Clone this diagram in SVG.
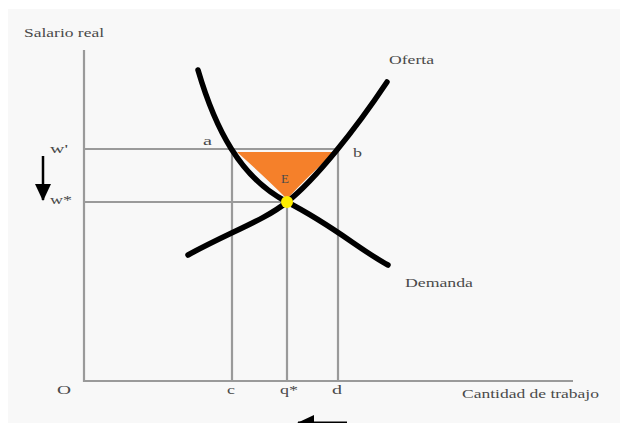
<svg xmlns="http://www.w3.org/2000/svg" width="620" height="423" viewBox="0 0 620 423">
<style>
.t{font-family:"Liberation Serif","Times New Roman",serif;font-size:13px;fill:#4a4a4a}
.g{stroke:#9a9a9a;stroke-width:2.2;fill:none}
.c{stroke:#000;stroke-width:5.5;fill:none;stroke-linecap:round}
</style>
<defs>
<marker id="ah" markerWidth="17" markerHeight="16" refX="16" refY="8" orient="auto" markerUnits="userSpaceOnUse">
<path d="M0,0 L17,8 L0,16 Z" fill="#000"/>
</marker>
</defs>
<rect x="0" y="0" width="620" height="423" fill="#fff"/>
<rect x="8" y="9" width="612" height="414" fill="#f8f8f8"/>
<g id="axes">
<path class="g" d="M84,50 V381 H573"/>
</g>
<g id="connectors">
<path class="g" d="M84,149 H338 M84,202 H287 M232,149 V381 M287,202 V381 M338,149 V381"/>
</g>
<g id="surplus">
<path d="M237,152 L335,152 Q306,178 287,199 Q266,178 237,152 Z" fill="#f5802a"/>
</g>
<g id="demanda">
<path class="c" d="M198,70 C215,128 240,178 287,202 S360,250 388,265"/>
</g>
<g id="oferta">
<path class="c" d="M188,255 C230,232 265,220 287,202 C315,180 355,130 387,82"/>
</g>
<g id="equilibrio">
<circle cx="287" cy="202" r="6" fill="#ffee00"/>
</g>
<g id="labels">
<text class="t" x="24" y="37" textLength="80" lengthAdjust="spacingAndGlyphs">Salario real</text>
<text class="t" x="389" y="64" textLength="45" lengthAdjust="spacingAndGlyphs">Oferta</text>
<text class="t" x="405" y="287" textLength="68" lengthAdjust="spacingAndGlyphs">Demanda</text>
<text class="t" x="203" y="145" textLength="9" lengthAdjust="spacingAndGlyphs">a</text>
<text class="t" x="353" y="157" textLength="9" lengthAdjust="spacingAndGlyphs">b</text>
<text class="t" x="281" y="183">E</text>
<text class="t" x="50" y="153" textLength="18" lengthAdjust="spacingAndGlyphs">w'</text>
<text class="t" x="50" y="204" textLength="22" lengthAdjust="spacingAndGlyphs">w*</text>
<text class="t" x="57" y="394" textLength="14" lengthAdjust="spacingAndGlyphs">O</text>
<text class="t" x="227" y="394" textLength="8" lengthAdjust="spacingAndGlyphs">c</text>
<text class="t" x="280" y="394" textLength="18" lengthAdjust="spacingAndGlyphs">q*</text>
<text class="t" x="332" y="394" textLength="10" lengthAdjust="spacingAndGlyphs">d</text>
<text class="t" x="462" y="398" textLength="137" lengthAdjust="spacingAndGlyphs">Cantidad de trabajo</text>
</g>
<g id="arrows">
<line x1="43" y1="156" x2="43" y2="200" stroke="#000" stroke-width="2.5" marker-end="url(#ah)"/>
<line x1="347" y1="423" x2="298" y2="423" stroke="#000" stroke-width="3" marker-end="url(#ah)"/>
</g>
</svg>
